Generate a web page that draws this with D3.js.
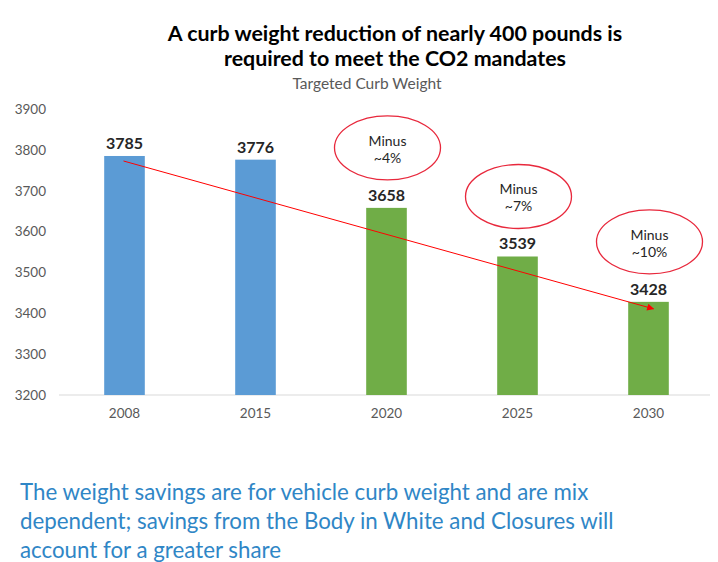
<!DOCTYPE html>
<html>
<head>
<meta charset="utf-8">
<script src="https://cdn.jsdelivr.net/npm/d3@7"></script>
<style>
  body { margin: 0; background: #fff; }
  svg { display: block; }
</style>
</head>
<body>
<script>
var years = ["2008", "2015", "2020", "2025", "2030"];
var weights = [3785, 3776, 3658, 3539, 3428];
var barColors = ["#5b9bd5", "#5b9bd5", "#70ad47", "#70ad47", "#70ad47"];
var yTicks = [3200, 3300, 3400, 3500, 3600, 3700, 3800, 3900];
var callouts = [
  { year: "2020", value: 3658, lines: ["Minus", "~4%"] },
  { year: "2025", value: 3539, lines: ["Minus", "~7%"] },
  { year: "2030", value: 3428, lines: ["Minus", "~10%"] }
];
var titleLines = ["A curb weight reduction of nearly 400 pounds is", "required to meet the CO2 mandates"];
var footerLines = [
  "The weight savings are for vehicle curb weight and are mix",
  "dependent; savings from the Body in White and Closures will",
  "account for a greater share"
];

var font = "Lato, 'Open Sans', sans-serif";

var svg = d3.select("body").append("svg")
  .attr("width", 718)
  .attr("height", 562);

var defs = svg.append("defs");
defs.append("marker")
  .attr("id", "arrowhead")
  .attr("viewBox", "0 0 10 10")
  .attr("refX", 9).attr("refY", 5)
  .attr("markerWidth", 9).attr("markerHeight", 7)
  .attr("markerUnits", "userSpaceOnUse")
  .attr("orient", "auto")
  .append("path")
  .attr("d", "M0,0L10,5L0,10z")
  .attr("fill", "#ff0000");

var x = d3.scaleBand()
  .domain(years)
  .range([59, 714])
  .paddingInner(0.69)
  .paddingOuter(0.345);

var y = d3.scaleLinear()
  .domain([3200, 3900])
  .range([395, 109]);

// title
svg.append("g").selectAll("text")
  .data(titleLines)
  .enter().append("text")
  .attr("x", 395)
  .attr("y", function(d, i) { return 41 + i * 25; })
  .attr("text-anchor", "middle")
  .style("font-family", font)
  .style("font-weight", "bold")
  .style("font-size", "21.4px")
  .attr("fill", "#000")
  .text(function(d) { return d; });

svg.append("text")
  .attr("x", 367)
  .attr("y", 89)
  .attr("text-anchor", "middle")
  .style("font-family", font)
  .style("font-size", "15.5px")
  .attr("fill", "#595959")
  .text("Targeted Curb Weight");

// y axis labels
var yAxis = svg.append("g")
  .attr("transform", "translate(46,0)")
  .call(d3.axisLeft(y).tickValues(yTicks).tickFormat(d3.format("d")).tickSize(0).tickPadding(0));
yAxis.select(".domain").remove();
yAxis.selectAll("text")
  .style("font-family", font)
  .style("font-size", "13.5px")
  .attr("fill", "#595959");

// baseline
svg.append("line")
  .attr("x1", 59).attr("x2", 710)
  .attr("y1", y(3200)).attr("y2", y(3200))
  .attr("stroke", "#d9d9d9")
  .attr("stroke-width", 1);

// bars
svg.append("g").selectAll("rect")
  .data(years)
  .enter().append("rect")
  .attr("x", function(d) { return x(d); })
  .attr("y", function(d, i) { return y(weights[i]); })
  .attr("width", x.bandwidth())
  .attr("height", function(d, i) { return y(3200) - y(weights[i]); })
  .attr("fill", function(d, i) { return barColors[i]; });

// value labels
svg.append("g").selectAll("text")
  .data(years)
  .enter().append("text")
  .attr("x", function(d) { return x(d) + x.bandwidth() / 2; })
  .attr("y", function(d, i) { return y(weights[i]) - 7; })
  .attr("text-anchor", "middle")
  .style("font-family", font)
  .style("font-weight", "bold")
  .style("font-size", "16px")
  .attr("fill", "#262626")
  .text(function(d, i) { return weights[i]; });

// x axis labels
var xAxis = svg.append("g")
  .attr("transform", "translate(0," + y(3200) + ")")
  .call(d3.axisBottom(x).tickSize(0).tickPadding(13));
xAxis.select(".domain").remove();
xAxis.selectAll("text")
  .style("font-family", font)
  .style("font-size", "13.5px")
  .attr("fill", "#595959");

// trend arrow
svg.append("line")
  .attr("x1", x(years[0]) + x.bandwidth() / 2 - 1)
  .attr("y1", y(weights[0]) + 5)
  .attr("x2", x(years[4]) + x.bandwidth() / 2 + 5)
  .attr("y2", y(weights[4]) + 7)
  .attr("stroke", "#ff0000")
  .attr("stroke-width", 1)
  .attr("marker-end", "url(#arrowhead)");

// callout ellipses
var co = svg.append("g").selectAll("g")
  .data(callouts)
  .enter().append("g")
  .attr("transform", function(d) {
    return "translate(" + (x(d.year) + x.bandwidth() / 2 + 1) + "," + (y(d.value) - 60) + ")";
  });
co.append("ellipse")
  .attr("rx", 53).attr("ry", 32)
  .attr("fill", "none")
  .attr("stroke", "#e8283c")
  .attr("stroke-width", 1.3);
co.selectAll("text")
  .data(function(d) { return d.lines; })
  .enter().append("text")
  .attr("y", function(d, i) { return -2 + i * 17; })
  .attr("text-anchor", "middle")
  .style("font-family", font)
  .style("font-size", "14px")
  .attr("fill", "#262626")
  .text(function(d) { return d; });

// footer note
svg.append("g").selectAll("text")
  .data(footerLines)
  .enter().append("text")
  .attr("x", 20)
  .attr("y", function(d, i) { return 500 + i * 29; })
  .style("font-family", font)
  .style("font-size", "22.3px")
  .attr("fill", "#2f86c6")
  .text(function(d) { return d; });
</script>
</body>
</html>
